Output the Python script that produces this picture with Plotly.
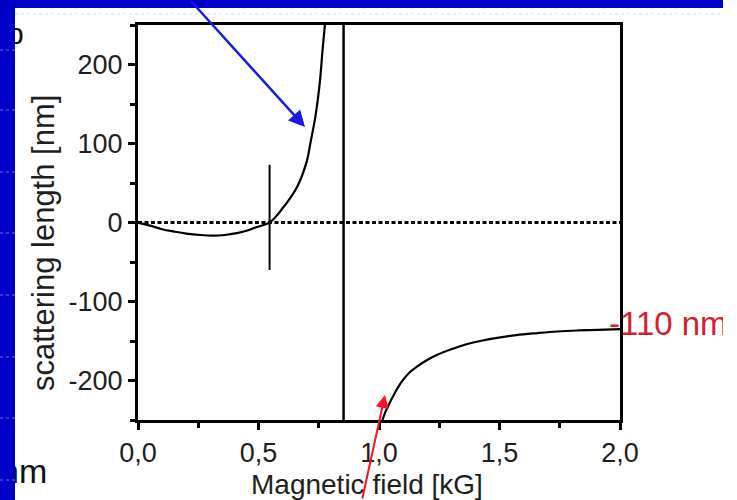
import plotly.graph_objects as go

# Scattering length vs. magnetic field (readings in kG and nm)
field_low = [0.00, 0.05, 0.10, 0.15, 0.20, 0.26, 0.31, 0.36, 0.41, 0.45, 0.49, 0.546,
             0.60, 0.66, 0.70, 0.715, 0.736, 0.754, 0.766, 0.776, 0.782]
length_low = [0, -4, -8.5, -11.5, -14, -15.8, -16.5, -15.8, -13.5, -10.5, -6, 0,
              18, 45, 77, 100, 134, 176, 219, 252, 275]

field_high = [1.006, 1.025, 1.045, 1.062, 1.08, 1.103, 1.13, 1.159, 1.2, 1.242, 1.3,
              1.353, 1.42, 1.49, 1.57, 1.658, 1.74, 1.824, 1.91, 2.0]
length_high = [-258, -241, -228, -218, -208, -198, -189, -182, -174, -167.5, -160.5,
               -155, -150, -146, -142.5, -140, -138, -136.7, -135.8, -135]

resonance_field = 0.853          # pole position
zero_crossing_field = 0.546      # where the scattering length vanishes
zero_marker_span = [-60, 73]
background_length = -110         # nm, asymptotic value

x_ticks = [0.0, 0.5, 1.0, 1.5, 2.0]
x_tick_text = ["0,0", "0,5", "1,0", "1,5", "2,0"]
y_ticks = [-200, -100, 0, 100, 200]
y_tick_text = ["-200", "-100", "0", "100", "200"]

X_RANGE = [0, 2]
Y_RANGE = [-250, 250]

W, H = 737, 500
# plot frame in page pixels
FRAME_L, FRAME_R, FRAME_T, FRAME_B = 138, 620, 25, 420


def px_x(px):
    return px / W


def px_y(py):
    return 1 - py / H


def data_x(px):
    return X_RANGE[0] + (px - FRAME_L) / (FRAME_R - FRAME_L) * (X_RANGE[1] - X_RANGE[0])


def data_y(py):
    return Y_RANGE[0] + (FRAME_B - py) / (FRAME_B - FRAME_T) * (Y_RANGE[1] - Y_RANGE[0])


FONT = "Liberation Sans, Arial, sans-serif"
TEXT_COLOR = "#1e1e1e"
BLUE = "#0000c8"

fig = go.Figure()

# zero line
fig.add_trace(go.Scatter(x=[X_RANGE[0], X_RANGE[1]], y=[0, 0], mode="lines",
                         line=dict(color="black", width=3, dash="4px,2.5px")))
# resonance position
fig.add_trace(go.Scatter(x=[resonance_field, resonance_field], y=Y_RANGE, mode="lines",
                         line=dict(color="black", width=2.5)))
# zero-crossing marker
fig.add_trace(go.Scatter(x=[zero_crossing_field, zero_crossing_field], y=zero_marker_span,
                         mode="lines", line=dict(color="black", width=2)))
# curve branches
fig.add_trace(go.Scatter(x=field_low, y=length_low, mode="lines",
                         line=dict(color="black", width=2.2, shape="spline", smoothing=1.0)))
fig.add_trace(go.Scatter(x=field_high, y=length_high, mode="lines",
                         line=dict(color="black", width=2.2, shape="spline", smoothing=1.0)))

# page-level text on a full-page overlay (pixel coordinates)
fig.add_trace(go.Scatter(x=[609], y=[327], mode="text",
                         text=[f"{background_length} nm"], textposition="middle right",
                         textfont=dict(family=FONT, size=33, color="#d4202e"),
                         xaxis="x2", yaxis="y2"))
fig.add_trace(go.Scatter(x=[7], y=[36], mode="text", text=["b"],
                         textposition="middle right",
                         textfont=dict(family=FONT, size=30, color="#111"),
                         xaxis="x2", yaxis="y2"))
fig.add_trace(go.Scatter(x=[0], y=[474], mode="text", text=["nm"],
                         textposition="middle right",
                         textfont=dict(family=FONT, size=34, color="#111"),
                         xaxis="x2", yaxis="y2"))

axis_common = dict(showline=True, linecolor="black", linewidth=3, mirror=True,
                   ticks="outside", tickcolor="black", tickwidth=3, ticklen=7,
                   showgrid=False, zeroline=False, automargin=False,
                   tickfont=dict(family=FONT, size=27, color=TEXT_COLOR))

fig.update_layout(
    xaxis=dict(range=X_RANGE, tickvals=x_ticks, ticktext=x_tick_text,
               domain=[px_x(FRAME_L), px_x(FRAME_R)], anchor="y",
               minor=dict(dtick=0.25, ticks="outside", ticklen=5, tickwidth=3,
                          tickcolor="black", showgrid=False),
               **axis_common),
    yaxis=dict(range=Y_RANGE, tickvals=y_ticks, ticktext=y_tick_text,
               domain=[px_y(FRAME_B), px_y(FRAME_T)], anchor="x",
               minor=dict(dtick=50, ticks="outside", ticklen=5, tickwidth=3,
                          tickcolor="black", showgrid=False),
               **axis_common),
    xaxis2=dict(range=[0, W], domain=[0, 1], anchor="y2", visible=False,
                fixedrange=True, automargin=False),
    yaxis2=dict(range=[H, 0], domain=[0, 1], anchor="x2", visible=False,
                fixedrange=True, automargin=False),
)

annotations = [
    dict(text="scattering length [nm]", xref="paper", yref="paper",
         x=px_x(43), y=px_y(243), textangle=-90, showarrow=False,
         font=dict(family=FONT, size=31, color=TEXT_COLOR),
         xanchor="center", yanchor="middle"),
    dict(text="Magnetic field [kG]", xref="paper", yref="paper",
         x=px_x(367), y=px_y(484), showarrow=False,
         font=dict(family=FONT, size=28, color=TEXT_COLOR),
         xanchor="center", yanchor="middle"),
    # pointer to the positive branch
    dict(x=data_x(305), y=data_y(127), ax=190 - 305, ay=-2 - 127,
         xref="x", yref="y", axref="pixel", ayref="pixel", text="", showarrow=True,
         arrowhead=2, arrowsize=1.3, arrowwidth=2.5, arrowcolor="#1a1ae6"),
    # pointer to the negative branch
    dict(x=data_x(385), y=data_y(395), ax=362 - 385, ay=503 - 395,
         xref="x", yref="y", text="", showarrow=True,
         arrowhead=2, arrowsize=1.3, arrowwidth=2, arrowcolor="#ff1020"),
]

shapes = [
    # slide frame
    dict(type="rect", xref="x2", yref="y2", layer="above",
         x0=0, x1=15, y0=0, y1=H, fillcolor=BLUE, line=dict(width=0)),
    dict(type="rect", xref="x2", yref="y2", layer="above",
         x0=15, x1=723, y0=0, y1=8, fillcolor=BLUE, line=dict(width=0)),
    dict(type="rect", xref="x2", yref="y2", layer="above",
         x0=723, x1=W, y0=8, y1=H, fillcolor="white", line=dict(width=0)),
    dict(type="line", xref="x2", yref="y2", layer="above",
         x0=15, x1=723, y0=14, y1=14, line=dict(color="#d8d8e8", width=1, dash="dot")),
]
for py in [50, 110, 172, 233, 295, 357, 418, 480]:
    shapes.append(dict(type="line", xref="x2", yref="y2", layer="above",
                       x0=0, x1=15, y0=py, y1=py,
                       line=dict(color="#6a6af0", width=1, dash="dot")))

fig.update_layout(width=W, height=H,
                  margin=dict(l=0, r=0, t=0, b=0, pad=0, autoexpand=False),
                  paper_bgcolor="white", plot_bgcolor="rgba(0,0,0,0)", showlegend=False,
                  annotations=annotations, shapes=shapes)

fig.write_html("out.html")
